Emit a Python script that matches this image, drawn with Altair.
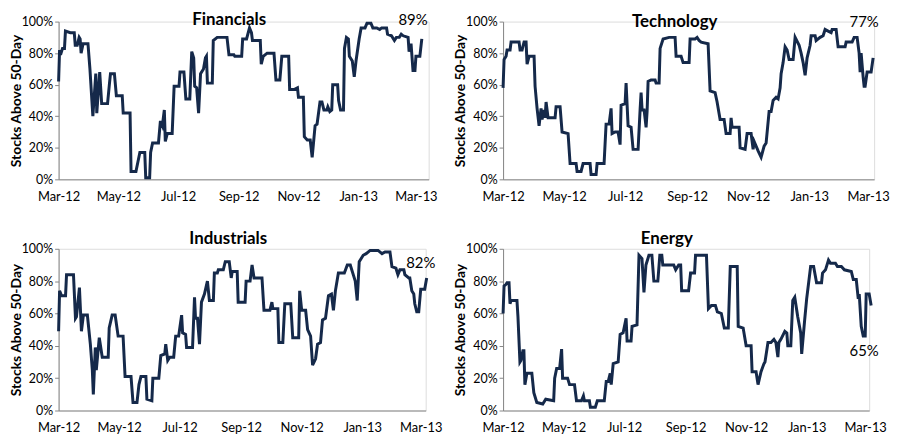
import altair as alt
import pandas as pd

START = pd.Timestamp("2012-03-01")
FONT = "Lato"
LINE = "#15294A"
AXIS_GREY = "#868686"

# days after 1 Mar 2012, % of stocks above their 50-day average
fin_day = [0, 1, 2, 4, 6, 7, 12, 16, 17, 19, 21, 22, 23, 25, 30, 32, 35, 38, 39, 42,
           44, 50, 52, 53, 57, 59, 65, 66, 73, 74, 79, 81, 83, 88, 89, 93, 94, 96, 102, 104,
           106, 108, 109, 111, 116, 118, 123, 124, 128, 130, 134, 136, 138, 139, 141, 143, 145, 148, 150, 151,
           152, 157, 158, 162, 172, 174, 179, 180, 187, 188, 192, 195, 197, 198, 206, 207, 209, 213, 220, 222,
           226, 228, 235, 236, 241, 244, 245, 250, 251, 254, 257, 259, 262, 264, 267, 269, 271, 274, 275, 277,
           279, 280, 285, 286, 288, 291, 292, 294, 296, 297, 300, 302, 304, 307, 309, 313, 315, 319, 321, 325,
           328, 330, 335, 336, 340, 343, 345, 348, 350, 352, 357, 358, 360, 362, 364, 365, 369, 371]
fin_val = [62, 82, 79, 83, 83, 94, 93, 93, 85, 85, 90, 89, 80, 86, 86, 70, 40, 67, 42, 68,
           48, 48, 61, 67, 67, 53, 53, 42, 42, 5, 5, 11, 17, 17, 1, 1, 17, 23, 23, 37,
           34, 44, 24, 29, 29, 59, 59, 68, 68, 51, 51, 81, 77, 59, 58, 42, 67, 70, 77, 78,
           61, 61, 88, 90, 90, 79, 79, 78, 78, 89, 89, 96, 93, 88, 88, 73, 78, 80, 80, 63,
           63, 78, 78, 57, 57, 58, 52, 52, 27, 25, 25, 14, 34, 35, 49, 49, 44, 44, 46, 43,
           44, 60, 60, 50, 44, 44, 83, 90, 89, 78, 75, 65, 76, 89, 96, 96, 99, 99, 96, 96,
           95, 96, 96, 92, 91, 88, 90, 90, 92, 91, 90, 81, 86, 69, 69, 78, 78, 89]

tech_day = [0, 1, 3, 4, 7, 8, 16, 17, 19, 21, 23, 24, 26, 31, 32, 34, 36, 38, 39, 41,
            42, 43, 45, 52, 53, 57, 59, 65, 67, 73, 74, 78, 80, 87, 88, 93, 94, 101, 103, 106,
            108, 109, 112, 115, 117, 118, 122, 123, 125, 128, 130, 135, 137, 138, 139, 141, 143, 144, 145, 148,
            152, 153, 156, 157, 160, 166, 172, 173, 178, 180, 186, 187, 192, 194, 196, 198, 205, 207, 212, 214,
            217, 221, 223, 227, 228, 229, 236, 237, 242, 244, 248, 250, 251, 255, 258, 261, 263, 266, 268, 270,
            273, 275, 277, 278, 280, 282, 284, 286, 290, 292, 296, 298, 300, 302, 304, 307, 308, 312, 313, 317,
            320, 322, 325, 328, 329, 333, 335, 342, 343, 349, 351, 354, 356, 357, 358, 360, 361, 362, 364, 368,
            370]
tech_val = [58, 76, 78, 82, 82, 87, 87, 82, 82, 87, 87, 73, 78, 78, 59, 45, 34, 45, 38, 44,
            39, 49, 39, 39, 46, 46, 30, 29, 10, 10, 5, 5, 10, 10, 3, 3, 10, 10, 35, 35,
            45, 29, 30, 30, 22, 47, 48, 61, 34, 33, 19, 19, 44, 55, 44, 44, 33, 43, 62, 63,
            63, 61, 61, 83, 89, 90, 90, 78, 78, 74, 74, 89, 89, 90, 88, 87, 86, 56, 55, 49,
            38, 38, 29, 29, 39, 33, 33, 20, 19, 29, 29, 19, 24, 18, 14, 21, 23, 43, 43, 50,
            52, 51, 58, 67, 74, 84, 82, 76, 76, 90, 85, 80, 74, 66, 77, 85, 91, 91, 88, 90,
            91, 95, 94, 93, 95, 95, 84, 84, 87, 87, 90, 90, 80, 68, 80, 65, 59, 59, 68, 68,
            77]

ind_day = [0, 1, 3, 7, 8, 15, 17, 18, 21, 23, 25, 29, 32, 34, 35, 37, 38, 41, 44, 50,
           51, 54, 57, 60, 65, 67, 73, 75, 79, 81, 83, 88, 89, 94, 95, 101, 103, 107, 108, 110,
           112, 116, 118, 121, 124, 125, 128, 129, 135, 137, 138, 140, 142, 144, 147, 150, 152, 156, 157, 160,
           161, 166, 168, 172, 174, 175, 180, 181, 188, 189, 193, 195, 197, 205, 207, 213, 215, 216, 221, 222,
           226, 228, 234, 236, 242, 243, 245, 249, 251, 254, 256, 259, 261, 264, 266, 269, 272, 275, 277, 279,
           282, 288, 291, 294, 297, 299, 301, 303, 307, 310, 314, 322, 326, 329, 334, 336, 340, 342, 344, 348,
           349, 353, 354, 356, 358, 359, 361, 363, 365, 369, 371]
ind_val = [49, 74, 71, 71, 84, 84, 57, 58, 76, 49, 59, 59, 41, 25, 10, 39, 25, 45, 33, 33,
           51, 59, 59, 46, 46, 21, 21, 5, 5, 16, 21, 21, 7, 6, 20, 20, 34, 35, 41, 31,
           33, 33, 46, 46, 59, 48, 47, 39, 39, 70, 57, 57, 41, 67, 72, 80, 68, 68, 85, 85,
           87, 87, 92, 92, 82, 86, 86, 67, 67, 80, 80, 90, 82, 82, 62, 62, 67, 63, 63, 42,
           42, 66, 66, 45, 45, 74, 62, 62, 50, 46, 28, 32, 41, 42, 56, 57, 71, 72, 62, 74,
           85, 85, 90, 90, 84, 80, 68, 92, 96, 97, 99, 99, 97, 98, 98, 89, 88, 84, 87, 87,
           84, 82, 82, 74, 72, 66, 61, 61, 75, 75, 82]

nrg_day = [0, 1, 3, 4, 6, 7, 8, 14, 15, 17, 18, 20, 21, 22, 24, 29, 31, 34, 40, 43,
           51, 52, 54, 57, 59, 60, 65, 67, 72, 74, 79, 81, 82, 87, 88, 93, 95, 102, 104, 106,
           108, 109, 111, 116, 118, 121, 124, 125, 129, 130, 135, 137, 140, 142, 144, 147, 150, 152, 156, 158,
           160, 161, 172, 174, 177, 179, 180, 187, 189, 193, 194, 205, 207, 210, 214, 216, 220, 223, 227, 229,
           236, 237, 242, 245, 250, 251, 255, 257, 260, 263, 264, 267, 270, 273, 275, 277, 278, 280, 284, 286,
           287, 290, 292, 294, 297, 300, 301, 304, 306, 310, 313, 316, 321, 322, 325, 328, 330, 335, 337, 341,
           344, 351, 353, 356, 358, 359, 361, 363, 365, 366, 369, 371]
nrg_val = [60, 77, 78, 79, 79, 66, 68, 68, 58, 30, 31, 37, 37, 16, 23, 23, 11, 5, 4, 7,
           6, 20, 26, 26, 38, 20, 20, 16, 16, 6, 6, 9, 6, 6, 2, 2, 6, 6, 18, 18,
           23, 16, 29, 30, 47, 48, 57, 43, 43, 52, 53, 96, 94, 73, 90, 96, 96, 80, 80, 96,
           96, 90, 90, 87, 90, 90, 74, 74, 85, 85, 96, 96, 63, 65, 65, 61, 60, 51, 51, 89,
           89, 52, 51, 40, 40, 24, 24, 16, 24, 29, 30, 42, 42, 44, 42, 33, 42, 44, 49, 48,
           40, 40, 68, 70, 58, 48, 35, 56, 69, 89, 89, 79, 79, 85, 87, 93, 91, 91, 89, 89,
           87, 86, 81, 81, 69, 72, 52, 46, 46, 72, 72, 65]

sectors = ["Financials", "Technology", "Industrials", "Energy"]
series_days = [fin_day, tech_day, ind_day, nrg_day]
series_vals = [fin_val, tech_val, ind_val, nrg_val]
last_labels = ["89%", "77%", "82%", "65%"]
label_days = [362, 361, 365, 364]
label_vals = [101, 100, 91, 36.5]
axis_end_day = [14, 7, 6, 5]          # day of March 2013 where each x axis stops
title_dx = [-14.5, -14, -14, -19.5]
title_offset = [-29, -29, -18, -18]
panel_width = [373, 374, 370, 369]
panel_height = [159, 159, 163, 163]

month_ticks = [alt.DateTime(year=2012, month=m, date=1) for m in (3, 5, 7, 9, 11)] + \
              [alt.DateTime(year=2013, month=m, date=1) for m in (1, 3)]


def panel(i):
    df = pd.DataFrame({
        "date": START + pd.to_timedelta(series_days[i], unit="D"),
        "pct": [v / 100 for v in series_vals[i]],
    })
    lab = pd.DataFrame({
        "date": [START + pd.Timedelta(days=label_days[i])],
        "pct": [label_vals[i] / 100],
        "text": [last_labels[i]],
    })

    x = alt.X("date:T",
              scale=alt.Scale(domain=[alt.DateTime(year=2012, month=3, date=1),
                                      alt.DateTime(year=2013, month=3, date=axis_end_day[i])]),
              axis=alt.Axis(title=None, values=month_ticks, format="%b-%y", labelAngle=0,
                            labelOverlap=False, labelFlush=False, ticks=False, grid=False,
                            domainColor=AXIS_GREY, labelPadding=11, labelFontSize=13,
                            labelColor="black", labelFont=FONT))
    y = alt.Y("pct:Q",
              scale=alt.Scale(domain=[0, 1]),
              axis=alt.Axis(title="Stocks Above 50-Day", values=[0, 0.2, 0.4, 0.6, 0.8, 1],
                            format=".0%", labelOverlap=False, labelFlush=False, grid=False,
                            domainColor=AXIS_GREY, tickColor=AXIS_GREY, tickSize=4,
                            labelPadding=2, labelFontSize=12.5, labelColor="black",
                            labelFont=FONT, titleFont=FONT, titleFontSize=14,
                            titleFontWeight="bold", titleColor="black", titlePadding=-2))

    line = alt.Chart(df).mark_line(color=LINE, strokeWidth=3).encode(x=x, y=y)
    text = alt.Chart(lab).mark_text(font=FONT, fontSize=15, color="black",
                                    align="center", baseline="middle").encode(
        x=x, y=y, text="text:N")

    return (line + text).properties(
        width=panel_width[i], height=panel_height[i],
        title=alt.TitleParams(sectors[i], font=FONT, fontSize=17, fontWeight="bold",
                              color="black", anchor="middle", baseline="alphabetic",
                              frame="group", offset=title_offset[i], dx=title_dx[i]))


chart = alt.concat(*[panel(i) for i in range(4)], columns=2).properties(
    spacing={"row": 70, "column": 75},
    bounds="flush",
    padding={"left": 0, "top": 0, "right": 0, "bottom": 0},
    background="white",
).configure_view(stroke="transparent").configure(font=FONT)

chart.save("out.html", embed_options={"renderer": "svg", "actions": False})
